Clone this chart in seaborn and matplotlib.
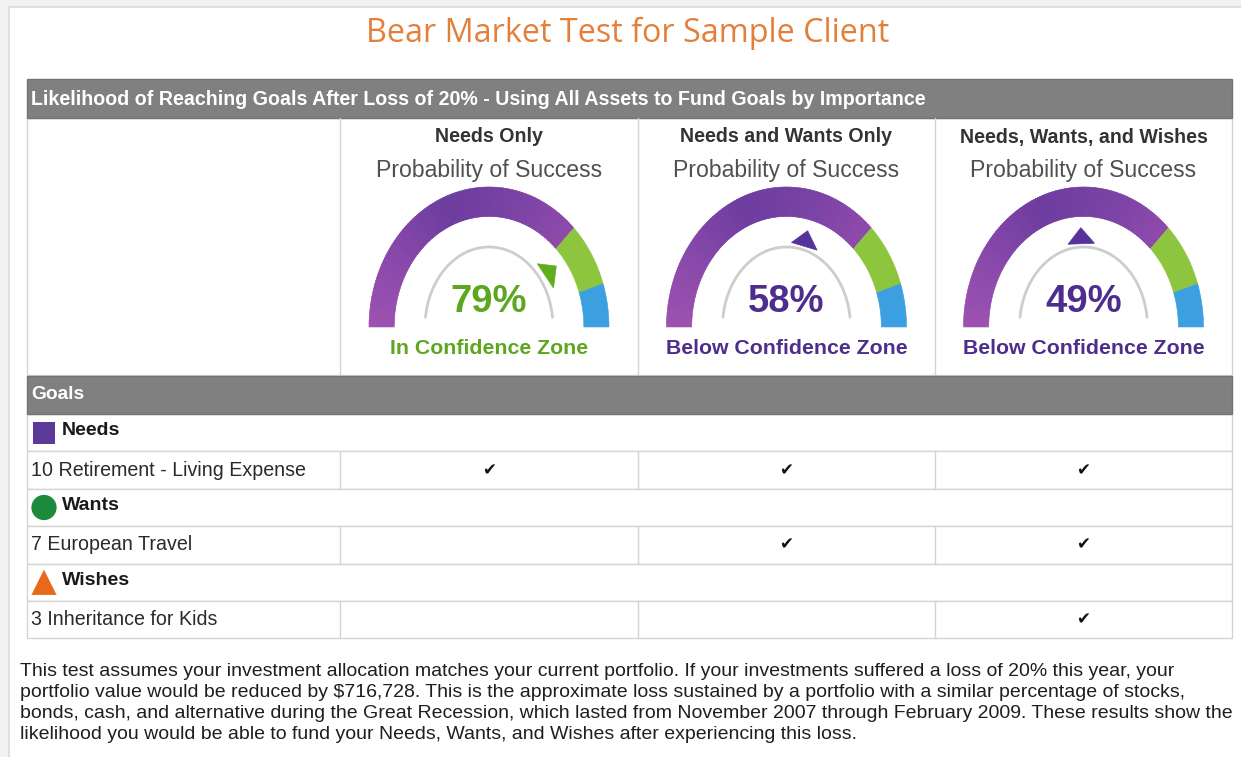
import numpy as np
import pandas as pd
import matplotlib
matplotlib.use("Agg")
import matplotlib.pyplot as plt
import seaborn as sns
from matplotlib.patches import Rectangle, Polygon
from matplotlib.colors import LinearSegmentedColormap
from matplotlib import font_manager

# ---------------- data ----------------
title = "Bear Market Test for Sample Client"
section_title = ("Likelihood of Reaching Goals After Loss of 20% - "
                 "Using All Assets to Fund Goals by Importance")
scenarios = ["Needs Only", "Needs and Wants Only", "Needs, Wants, and Wishes"]
success = [79, 58, 49]
status = ["In Confidence Zone", "Below Confidence Zone", "Below Confidence Zone"]
zone_edges = [0, 75, 90, 100]
categories = ["Needs", "Wants", "Wishes"]
goals = ["10 Retirement - Living Expense", "7 European Travel", "3 Inheritance for Kids"]
funded = [[1, 1, 1],
          [0, 1, 1],
          [0, 0, 1]]
footnote = [
    "This test assumes your investment allocation matches your current portfolio. If your investments suffered a loss of 20% this year, your",
    "portfolio value would be reduced by $716,728. This is the approximate loss sustained by a portfolio with a similar percentage of stocks,",
    "bonds, cash, and alternative during the Great Recession, which lasted from November 2007 through February 2009. These results show the",
    "likelihood you would be able to fund your Needs, Wants, and Wishes after experiencing this loss.",
]

# ---------------- style ----------------
sns.set_theme(style="white")
names = {f.name for f in font_manager.fontManager.ttflist}
SANS = "Liberation Sans" if "Liberation Sans" in names else "DejaVu Sans"
TITLE_FONT = "Open Sans" if "Open Sans" in names else SANS
plt.rcParams["font.family"] = [SANS, "DejaVu Sans"]

PURPLE_TXT = "#4e2d8c"
GREEN_TXT = "#5da71f"
GREEN = "#8dc53f"
BLUE = "#3b9fe0"
ORANGE = "#e47f3a"
HEADER_GREY = "#808080"
LINE = "#d4d4d4"
purple_cmap = LinearSegmentedColormap.from_list(
    "p", ["#9d52b0", "#8748aa", "#6d3d9f", "#7842a4", "#8e4aab"])

W, H = 1241, 757
fig = plt.figure(figsize=(W / 100, H / 100), dpi=100)
fig.patch.set_facecolor("#f2f2f2")
ax = fig.add_axes([0, 0, 1, 1])
ax.set_xlim(0, W)
ax.set_ylim(H, 0)
ax.axis("off")

# page
ax.add_patch(Rectangle((9, 7), W + 10, H + 10, facecolor="white",
                       edgecolor="#dcdcdc", lw=1.2, zorder=0))

ax.text(628, 33, title, ha="center", va="center", fontsize=23.3,
        color=ORANGE, fontfamily=TITLE_FONT)

# table geometry
TL, TR = 27, 1232
col_edges = [TL, 340, 638, 935, TR]
col_centers = [(col_edges[i + 1] + col_edges[i + 2]) / 2 for i in range(3)]
HDR_TOP, HDR_BOT = 79, 118
GAUGE_BOT = 375
GOALS_BOT = 414
ROW_H = 37.4

# header bar
ax.add_patch(Rectangle((TL, HDR_TOP), TR - TL, HDR_BOT - HDR_TOP,
                       facecolor=HEADER_GREY, edgecolor="#737373", lw=1, zorder=2))
ax.text(31, (HDR_TOP + HDR_BOT) / 2 + 1, section_title, ha="left", va="center",
        fontsize=14.1, fontweight="bold", color="white", zorder=3)

# gauge section borders
ax.add_patch(Rectangle((TL, HDR_BOT), TR - TL, GAUGE_BOT - HDR_BOT,
                       facecolor="white", edgecolor=LINE, lw=1, zorder=1))
for x in col_edges[1:4]:
    ax.plot([x, x], [HDR_BOT, GAUGE_BOT], color=LINE, lw=1, zorder=2)

# goals bar
ax.add_patch(Rectangle((TL, GAUGE_BOT + 1), TR - TL, GOALS_BOT - GAUGE_BOT - 1,
                       facecolor=HEADER_GREY, edgecolor="#737373", lw=1, zorder=2))
ax.text(31, (GAUGE_BOT + GOALS_BOT) / 2, "Goals", ha="left", va="center",
        fontsize=13.8, fontweight="bold", color="white", zorder=3)

RX, RY = 120.0, 140.0      # gauge outer half-width / height (px)
U_IN = 0.79                # inner edge of band (fraction of outer)


def val2ang(v):
    return np.deg2rad(180.0 - 1.8 * v)


def ept(cx, cy, u, a):
    return np.column_stack([cx + RX * u * np.cos(a), cy - RY * u * np.sin(a)])


def band(cx, cy, v1, v2, color, u0=U_IN, u1=1.0):
    a = np.linspace(val2ang(v1), val2ang(v2), 24)
    pts = np.vstack([ept(cx, cy, u1, a), ept(cx, cy, u0, a[::-1])])
    ax.add_patch(Polygon(pts, closed=True, facecolor=color, edgecolor=color,
                         lw=0.4, zorder=3))


def gauge(cx, cy, value):
    n = 120
    lo, hi = zone_edges[0], zone_edges[1]
    for k in range(n):
        v1 = lo + (hi - lo) * k / n
        v2 = lo + (hi - lo) * (k + 1) / n
        band(cx, cy, v1, min(v2 + 0.15, hi), purple_cmap(k / (n - 1)))
    band(cx, cy, zone_edges[1], zone_edges[2], GREEN)
    band(cx, cy, zone_edges[2], zone_edges[3], BLUE)
    # inner grey arc
    a = np.deg2rad(np.linspace(7, 173, 120))
    ax.plot(cx + 64 * np.cos(a), cy - 80 * np.sin(a), color="#cdcdcd",
            lw=2, zorder=3, solid_capstyle="round")
    # pointer
    in_zone = value >= zone_edges[1]
    pc = "#5fae20" if in_zone else "#56339a"
    t = val2ang(value)
    d = np.array([np.cos(t), np.sin(t)])
    p = np.array([-np.sin(t), np.cos(t)])
    tri = [0.71 * d, 0.595 * d + 0.11 * p, 0.595 * d - 0.11 * p]
    pts = [(cx + RX * q[0], cy - RY * q[1]) for q in tri]
    ax.add_patch(Polygon(pts, closed=True, facecolor=pc, edgecolor=pc,
                         lw=0.5, zorder=4))
    return GREEN_TXT if in_zone else PURPLE_TXT


GAUGE_CY = 327
for i, (name, val, st) in enumerate(zip(scenarios, success, status)):
    cx = col_centers[i]
    ax.text(cx, 137, name, ha="center", va="center", fontsize=14.1,
            fontweight="bold", color="#333333", zorder=5)
    ax.text(cx, 170, "Probability of Success", ha="center", va="center",
            fontsize=16.6, color="#505050", zorder=5)
    tc = gauge(cx, GAUGE_CY, val)
    ax.text(cx, 302, f"{val}%", ha="center", va="center", fontsize=27.5,
            fontweight="bold", color=tc, zorder=5)
    ax.text(cx, 348, st, ha="center", va="center", fontsize=15.3,
            fontweight="bold", color=tc, zorder=5)

# goals table
row_edges = [GOALS_BOT + ROW_H * k for k in range(2 * len(categories) + 1)]
for k in range(len(row_edges) - 1):
    y0, y1 = row_edges[k], row_edges[k + 1]
    ax.add_patch(Rectangle((TL, y0), TR - TL, y1 - y0, facecolor="white",
                           edgecolor=LINE, lw=1, zorder=1))
    if k % 2 == 1:
        for x in col_edges[1:4]:
            ax.plot([x, x], [y0, y1], color=LINE, lw=1, zorder=2)

cat_y = [(row_edges[2 * j] + row_edges[2 * j + 1]) / 2 for j in range(len(categories))]
goal_y = [(row_edges[2 * j + 1] + row_edges[2 * j + 2]) / 2 for j in range(len(goals))]

icons = pd.DataFrame({"category": categories, "x": [44] * 3, "y": cat_y})
icon_sizes = {"Needs": 250, "Wants": 330, "Wishes": 330}
sns.scatterplot(data=icons, x="x", y="y", hue="category", style="category",
                size="category", sizes=icon_sizes,
                palette={"Needs": "#5c3a97", "Wants": "#1b8a3c", "Wishes": "#e8681c"},
                markers={"Needs": "s", "Wants": "o", "Wishes": "^"},
                linewidth=0, legend=False, ax=ax, zorder=5)
for cat, y in zip(categories, cat_y):
    ax.text(62, y - 2, cat, ha="left", va="center", fontsize=14,
            fontweight="bold", color="#1a1a1a", zorder=5)
for g, y in zip(goals, goal_y):
    ax.text(31, y, g, ha="left", va="center", fontsize=14.1,
            color="#2a2a2a", zorder=5)

for gi, y in enumerate(goal_y):
    for sj in range(len(scenarios)):
        if funded[gi][sj]:
            ax.text(col_centers[sj], y, "\u2714", ha="center", va="center",
                    fontsize=12, color="#111111", fontfamily="DejaVu Sans", zorder=5)

ax.set_xlim(0, W)
ax.set_ylim(H, 0)
ax.axis("off")

# footnote
for k, line in enumerate(footnote):
    ax.text(20, 671 + 21.2 * k, line, ha="left", va="center", fontsize=14,
            color="#1e1e1e", zorder=5)

fig.savefig("out.png", dpi=100, facecolor=fig.get_facecolor())
